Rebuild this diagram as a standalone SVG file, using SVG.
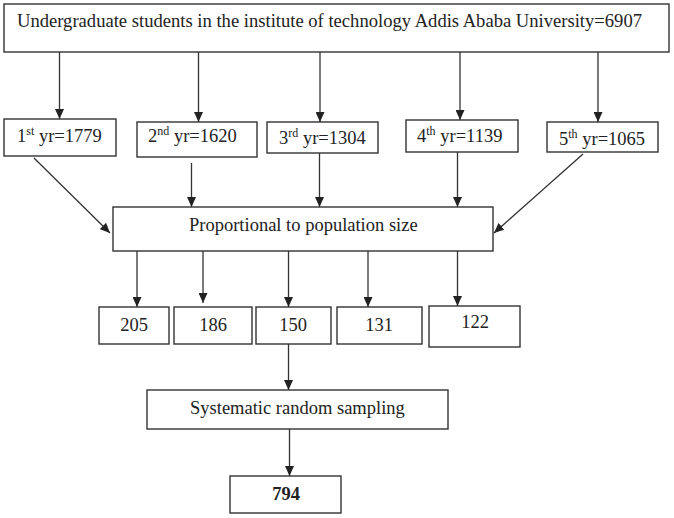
<svg xmlns="http://www.w3.org/2000/svg" width="674" height="518" viewBox="0 0 674 518">
<style>
.box{fill:#fff;stroke:#333;stroke-width:1.4}
.t{font-family:"Liberation Serif","Times New Roman",serif;font-size:18.5px;fill:#222}
.c{text-anchor:middle}
.sup{font-size:12px}
.conn line{stroke:#333;stroke-width:1.3;marker-end:url(#ah)}
</style>
<defs>
<marker id="ah" markerUnits="userSpaceOnUse" markerWidth="10" markerHeight="9" refX="10" refY="4.5" orient="auto">
<path d="M0,0 L10,4.5 L0,9 z" fill="#222"/>
</marker>
</defs>
<rect width="674" height="518" fill="#fff"/>
<g id="top">
<rect class="box" x="4" y="4" width="665" height="48"/>
<text class="t" x="17" y="27" textLength="625" lengthAdjust="spacingAndGlyphs">Undergraduate students in the institute of technology Addis Ababa University=6907</text>
</g>
<g id="y1"><rect class="box" x="4" y="119" width="112" height="37"/><text class="t" x="17" y="142">1<tspan class="sup" dy="-7">st</tspan><tspan dy="7"> yr=1779</tspan></text></g>
<g id="y2"><rect class="box" x="137" y="122" width="120" height="35"/><text class="t" x="148" y="142">2<tspan class="sup" dy="-7">nd</tspan><tspan dy="7"> yr=1620</tspan></text></g>
<g id="y3"><rect class="box" x="267" y="122" width="111" height="31"/><text class="t" x="279" y="144">3<tspan class="sup" dy="-7">rd</tspan><tspan dy="7"> yr=1304</tspan></text></g>
<g id="y4"><rect class="box" x="406" y="120" width="112" height="32"/><text class="t" x="417" y="142">4<tspan class="sup" dy="-7">th</tspan><tspan dy="7"> yr=1139</tspan></text></g>
<g id="y5"><rect class="box" x="547" y="122" width="111" height="30"/><text class="t" x="559" y="145">5<tspan class="sup" dy="-7">th</tspan><tspan dy="7"> yr=1065</tspan></text></g>
<g id="prop"><rect class="box" x="113" y="207" width="380" height="44"/><text class="t" x="189" y="231">Proportional to population size</text></g>
<g id="n205"><rect class="box" x="99" y="307" width="70" height="37"/><text class="t c" x="134" y="331">205</text></g>
<g id="n186"><rect class="box" x="174" y="307" width="78" height="37"/><text class="t c" x="213" y="331">186</text></g>
<g id="n150"><rect class="box" x="256" y="307" width="75" height="37"/><text class="t c" x="293" y="331">150</text></g>
<g id="n131"><rect class="box" x="337" y="307" width="85" height="37"/><text class="t c" x="379" y="331">131</text></g>
<g id="n122"><rect class="box" x="429" y="306" width="91" height="41"/><text class="t c" x="475" y="328">122</text></g>
<g id="sys"><rect class="box" x="147" y="390" width="301" height="39"/><text class="t" x="190" y="414">Systematic random sampling</text></g>
<g id="total"><rect class="box" x="230" y="476" width="111" height="37"/><text class="t c" x="286" y="500" font-weight="bold">794</text></g>
<g id="connectors" class="conn">
<line x1="59.5" y1="52" x2="59.5" y2="119"/>
<line x1="198.5" y1="52" x2="198.5" y2="122"/>
<line x1="320" y1="52" x2="320" y2="122"/>
<line x1="460" y1="52" x2="460" y2="120"/>
<line x1="598" y1="52" x2="598" y2="122"/>
<line x1="34" y1="158" x2="110" y2="233"/>
<line x1="191.5" y1="163" x2="191.5" y2="207"/>
<line x1="319.5" y1="153" x2="319.5" y2="207"/>
<line x1="457.5" y1="152" x2="457.5" y2="207"/>
<line x1="583" y1="154" x2="494" y2="233"/>
<line x1="137" y1="251" x2="137" y2="307"/>
<line x1="203" y1="251" x2="203" y2="303"/>
<line x1="288.5" y1="251" x2="288.5" y2="307"/>
<line x1="368" y1="251" x2="368" y2="307"/>
<line x1="457.5" y1="251" x2="457.5" y2="306"/>
<line x1="288.5" y1="344" x2="288.5" y2="390"/>
<line x1="289.5" y1="429" x2="289.5" y2="476"/>
</g>
</svg>
